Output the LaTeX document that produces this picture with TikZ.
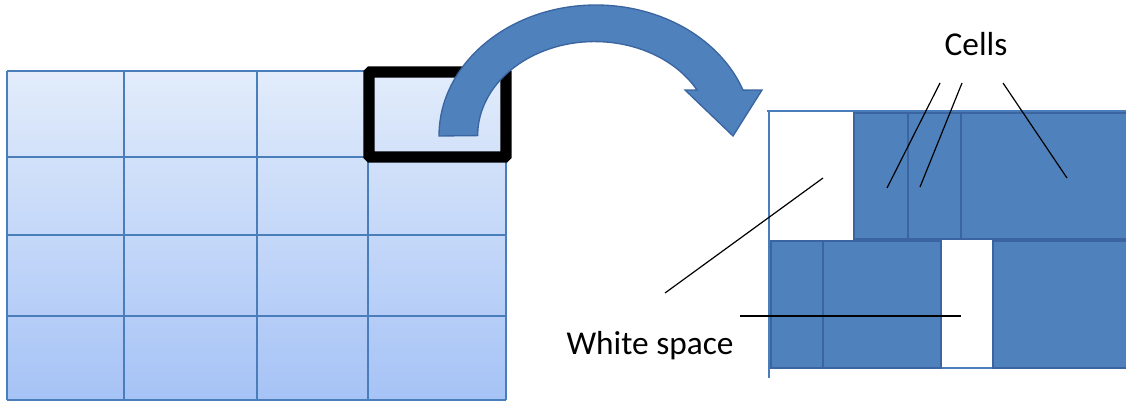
\documentclass[tikz,border=0pt]{standalone}
\usepackage{fontspec}
\setmainfont{Carlito}
\usetikzlibrary{positioning}

\definecolor{gridblue}{HTML}{4A7EBB}
\definecolor{cellblue}{HTML}{4F81BD}
\definecolor{celledge}{HTML}{3A65A0}
\definecolor{gridtop}{HTML}{E2ECFB}
\definecolor{gridbot}{HTML}{A6C3F6}

\begin{document}
\begin{tikzpicture}[
    x=0.75pt, y=-0.75pt,
    gridline/.style={draw=gridblue, line width=1.1pt},
    cell/.style={fill=cellblue, draw=celledge, line width=1.6pt},
    frame/.style={draw=gridblue, line width=0.8pt},
    pointer/.style={draw=black, line width=0.9pt},
    label/.style={font=\fontsize{25}{30}\selectfont, inner sep=0pt}
]
\useasboundingbox (0,0) rectangle (1126,403);

% page of cells
\shade[top color=gridtop, bottom color=gridbot] (7,71) rectangle (506,400);
\foreach \x in {7,124,257,368,506}
    \draw[gridline] (\x,71) -- (\x,400);
\foreach \y in {71,157,235,316,400}
    \draw[gridline] (7,\y) -- (506,\y);

% zoom window
\draw[line width=8.5pt, rounded corners=1pt] (369,72) rectangle (506,157);

% curved arrow
\filldraw[fill=cellblue, draw=celledge, line width=1pt]
    (439,136) arc[start angle=180, end angle=339.5, x radius=157, y radius=131]
    -- (762,90) -- (733,136) -- (685,90) -- (697,90)
    arc[start angle=331, end angle=180, x radius=117, y radius=94] -- cycle;

% enlarged window
\draw[frame] (767,111) -- (1126,111);
\draw[frame] (769,111) -- (769,378);
\draw[frame] (941,368) -- (993,368);

\draw[cell] (854,113) rectangle (908,239);
\draw[cell] (908,113) rectangle (961,239);
\draw[cell] (961,113) rectangle (1130,239);
\draw[cell] (771,241) rectangle (823,368);
\draw[cell] (823,241) rectangle (941,368);
\draw[cell] (993,241) rectangle (1130,368);

% labels
\node[label] (cells) at (976,44) {Cells};
\node[label] (white) at (650,346) {White space};

\coordinate (c1) at (940,83);
\coordinate (c2) at (962,83);
\coordinate (c3) at (1003,83);
\coordinate (t1) at (887,188);
\coordinate (t2) at (920,187);
\coordinate (t3) at (1067,178);
\coordinate (w1) at (665,293);
\coordinate (w2) at (823,178);
\coordinate (w3) at (740,316);
\coordinate (w4) at (961,316);

\draw[pointer] (c1) -- (t1);
\draw[pointer] (c2) -- (t2);
\draw[pointer] (c3) -- (t3);
\draw[pointer] (w1) -- (w2);
\draw[pointer] (w3) -- (w4);

\end{tikzpicture}
\end{document}
